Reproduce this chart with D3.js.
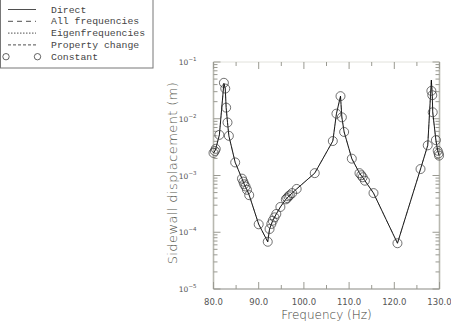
<!DOCTYPE html>
<html>
<head>
<meta charset="utf-8">
<script src="https://cdn.jsdelivr.net/npm/d3@7"></script>
<style>
  body { margin: 0; background: #fff; }
  svg { display: block; }
</style>
</head>
<body>
<div id="chart"></div>
<script>
// frequency (Hz) / sidewall displacement (m), "Constant" markers
var constFreq = [80.0, 80.3, 80.5, 81.3, 82.3, 82.6, 82.8, 83.1, 83.4, 84.8,
  86.3, 86.6, 86.8, 87.1, 87.4, 87.9, 90.0, 92.0, 92.4, 92.8, 93.1, 93.5, 93.9,
  94.8, 96.0, 96.3, 96.6, 96.9, 97.4, 98.4, 102.4, 106.4, 107.2, 108.1, 108.4,
  108.9, 110.6, 112.3, 112.7, 113.0, 113.5, 115.4, 120.7, 125.8, 127.4, 128.2,
  128.4, 128.5, 129.2, 129.6, 129.8, 129.9];
var constDisp = [2.5e-3, 2.7e-3, 2.95e-3, 5.2e-3, 4.3e-2, 3.4e-2, 1.57e-2, 8.6e-3, 5.0e-3, 1.7e-3,
  8.8e-4, 7.8e-4, 7.0e-4, 6.4e-4, 5.6e-4, 4.5e-4, 1.38e-4, 6.8e-5, 1.14e-4, 1.40e-4, 1.60e-4, 1.83e-4, 2.10e-4,
  2.79e-4, 3.8e-4, 4.0e-4, 4.3e-4, 4.5e-4, 4.9e-4, 5.8e-4, 1.1e-3, 4.05e-3, 1.23e-2, 2.5e-2, 1.06e-2,
  5.85e-3, 1.98e-3, 1.1e-3, 1.01e-3, 9.3e-4, 8.1e-4, 4.9e-4, 6.4e-5, 1.3e-3, 3.4e-3, 3.1e-2,
  2.6e-2, 1.3e-2, 4.2e-3, 2.73e-3, 2.45e-3, 2.24e-3];

// computed response curve (all four methods overlap)
var lineFreq = [80.0, 80.3, 80.5, 81.3, 82.3, 82.6, 82.8, 83.1, 83.4, 84.8,
  86.3, 86.8, 87.4, 87.9, 90.0, 92.0, 92.4, 93.1, 93.9, 94.8, 96.0, 96.9,
  97.4, 98.4, 102.4, 106.4, 107.2, 108.1, 108.4, 108.9, 110.6, 112.3, 113.0,
  113.5, 115.4, 120.7, 125.8, 127.4, 128.2, 128.4, 128.5, 129.2, 129.6, 129.9];
var lineDisp = [2.5e-3, 2.7e-3, 2.95e-3, 5.2e-3, 4.2e-2, 3.4e-2, 1.57e-2, 8.6e-3, 5.0e-3, 1.7e-3,
  8.8e-4, 7.0e-4, 5.6e-4, 4.5e-4, 1.38e-4, 6.8e-5, 1.14e-4, 1.60e-4, 2.10e-4, 2.79e-4, 3.8e-4, 4.5e-4,
  4.9e-4, 5.8e-4, 1.1e-3, 4.05e-3, 1.23e-2, 2.5e-2, 1.06e-2, 5.85e-3, 1.98e-3, 1.1e-3, 9.3e-4,
  8.1e-4, 4.9e-4, 6.4e-5, 1.3e-3, 3.4e-3, 4.8e-2, 2.6e-2, 1.3e-2, 4.2e-3, 2.73e-3, 2.24e-3];

var legendLabels = ['Direct', 'All frequencies', 'Eigenfrequencies', 'Property change', 'Constant'];
var legendDash = ['none', '5,4', '1.5,1.5', '3,2', null];

var xTicks = [80, 90, 100, 110, 120, 130];
var xMinor = [85, 95, 105, 115, 125];
var yTicks = [1e-5, 1e-4, 1e-3, 1e-2, 1e-1];

var width = 451, height = 322,
  margin = { top: 62, right: 11.5, bottom: 33, left: 213.5 },
  axisColor = '#9a9a92',
  textColor = '#55554c';

var svg = d3
  .select('#chart')
  .append('svg')
  .attr('width', width)
  .attr('height', height);

var x = d3.scaleLinear()
  .domain([80, 130])
  .range([margin.left, width - margin.right]);

var y = d3.scaleLog()
  .domain([1e-5, 1e-1])
  .range([height - margin.bottom, margin.top]);

var x0 = x.range()[0], x1 = x.range()[1],
  y0 = y.range()[0], y1 = y.range()[1];

// frame
var frame = svg.append('g');
frame.append('line').attr('x1', x0).attr('x2', x0).attr('y1', y1).attr('y2', y0)
  .style('stroke', '#b8b8b0').style('stroke-width', 1.6);
frame.append('line').attr('x1', x1).attr('x2', x1).attr('y1', y1).attr('y2', y0)
  .style('stroke', '#b8b8b0').style('stroke-width', 1.6);
frame.append('line').attr('x1', x0).attr('x2', x1).attr('y1', y0).attr('y2', y0)
  .style('stroke', '#8a8a84').style('stroke-width', 1.2);
frame.append('line').attr('x1', x0).attr('x2', x1).attr('y1', y1).attr('y2', y1)
  .style('stroke', '#e2e2dc').style('stroke-width', 1);

// x ticks, inward on bottom and top
var xt = svg.append('g');
function xTick(v, len) {
  xt.append('line').attr('x1', x(v)).attr('x2', x(v)).attr('y1', y0).attr('y2', y0 - len)
    .style('stroke', axisColor).style('stroke-width', 1);
  xt.append('line').attr('x1', x(v)).attr('x2', x(v)).attr('y1', y1).attr('y2', y1 + len)
    .style('stroke', axisColor).style('stroke-width', 1);
}
xTicks.forEach(function (v) { xTick(v, 7); });
xMinor.forEach(function (v) { xTick(v, 4); });

svg.append('g')
  .selectAll('text')
  .data(xTicks)
  .enter()
  .append('text')
  .attr('x', function (d) { return x(d); })
  .attr('y', y0 + 16)
  .attr('text-anchor', 'middle')
  .style('font-family', 'DejaVu Sans, sans-serif')
  .style('font-size', '8.5px')
  .style('fill', '#555')
  .text(function (d) { return d3.format('.1f')(d); });

// y ticks, log decades with minor 2..9
var yt = svg.append('g');
var yAll = [];
yTicks.forEach(function (d, i) {
  if (i === yTicks.length - 1) return;
  for (var k = 1; k < 10; k++) yAll.push({ v: d * k, major: k === 1 });
});
yAll.push({ v: 1e-1, major: true });
yAll.forEach(function (t) {
  var len = t.major ? 7 : 4;
  yt.append('line').attr('x1', x0).attr('x2', x0 + len).attr('y1', y(t.v)).attr('y2', y(t.v))
    .style('stroke', axisColor).style('stroke-width', 1);
  yt.append('line').attr('x1', x1).attr('x2', x1 - len).attr('y1', y(t.v)).attr('y2', y(t.v))
    .style('stroke', axisColor).style('stroke-width', 1);
});

var ylab = svg.append('g')
  .selectAll('text')
  .data(yTicks)
  .enter()
  .append('text')
  .attr('x', x0 - 17)
  .attr('y', function (d) { return y(d) + 3; })
  .attr('text-anchor', 'end')
  .style('font-family', 'DejaVu Sans, sans-serif')
  .style('font-size', '7.5px')
  .style('fill', '#555');
ylab.append('tspan').text('10');
ylab.append('tspan')
  .attr('dy', -4)
  .style('font-size', '5.5px')
  .text(function (d) { return '\u2212' + Math.round(-Math.log10(d)); });

// axis titles
svg.append('text')
  .attr('x', (x0 + x1) / 2)
  .attr('y', height - 3.5)
  .attr('text-anchor', 'middle')
  .style('font-family', 'DejaVu Sans, sans-serif')
  .style('font-size', '12px')
  .style('font-weight', 200)
  .style('fill', '#3c3c36')
  .text('Frequency (Hz)');

svg.append('text')
  .attr('transform', 'translate(177,173) rotate(-90)')
  .attr('text-anchor', 'middle')
  .style('font-family', 'DejaVu Sans, sans-serif')
  .style('font-size', '13px')
  .style('font-weight', 200)
  .style('letter-spacing', '0.4px')
  .style('fill', textColor)
  .text('Sidewall displacement (m)');

// curves
var lineData = lineFreq.map(function (f, i) { return [f, lineDisp[i]]; });
var line = d3.line()
  .x(function (d) { return x(d[0]); })
  .y(function (d) { return y(d[1]); });

legendDash.slice(0, 4).forEach(function (dash, i) {
  svg.append('path')
    .datum(lineData)
    .attr('d', line)
    .style('fill', 'none')
    .style('stroke', '#000')
    .style('stroke-width', i === 0 ? 0.85 : 0.5)
    .style('stroke-opacity', i === 0 ? 1 : 0.3)
    .style('stroke-dasharray', dash);
});

svg.append('g')
  .selectAll('circle')
  .data(constFreq.map(function (f, i) { return [f, constDisp[i]]; }))
  .enter()
  .append('circle')
  .attr('cx', function (d) { return x(d[0]); })
  .attr('cy', function (d) { return y(d[1]); })
  .attr('r', 4.5)
  .style('fill', 'none')
  .style('stroke', '#333')
  .style('stroke-width', 0.7);

// legend
var lg = svg.append('g');
lg.append('rect')
  .attr('x', 0.5).attr('y', -1)
  .attr('width', 152.5).attr('height', 69)
  .style('fill', '#fff')
  .style('stroke', '#777')
  .style('stroke-width', 1);

legendLabels.forEach(function (name, i) {
  var ry = 9.5 + i * 11.8;
  if (legendDash[i] !== null) {
    lg.append('line')
      .attr('x1', 8).attr('x2', 36).attr('y1', ry).attr('y2', ry)
      .style('stroke', '#222').style('stroke-width', 0.8)
      .style('stroke-dasharray', legendDash[i]);
  } else {
    [6, 37.5].forEach(function (cx) {
      lg.append('circle')
        .attr('cx', cx).attr('cy', ry).attr('r', 3.2)
        .style('fill', 'none').style('stroke', '#222').style('stroke-width', 0.7);
    });
  }
  lg.append('text')
    .attr('x', 51)
    .attr('y', ry + 3)
    .style('font-family', 'Liberation Mono, monospace')
    .style('font-size', '9.8px')
    .style('fill', '#444')
    .text(name);
});
</script>
</body>
</html>
